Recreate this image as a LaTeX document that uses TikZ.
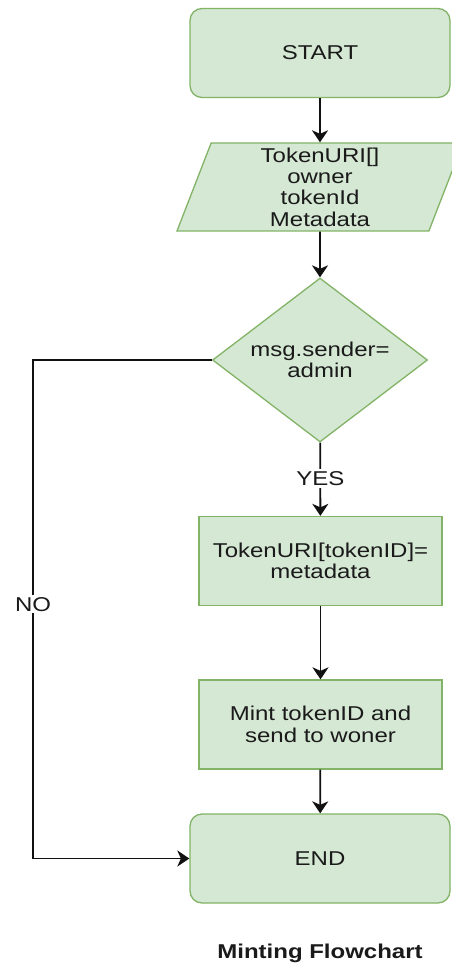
\documentclass[tikz,border=0pt]{standalone}
\usepackage{fontspec}
\setmainfont{Liberation Sans}[FakeStretch=1.2]
\usetikzlibrary{arrows.meta,shapes.geometric}
\definecolor{fillgreen}{HTML}{D5E8D4}
\definecolor{strokegreen}{HTML}{82B366}
\definecolor{textdark}{HTML}{1A1A1A}
\definecolor{linedark}{HTML}{111111}
\tikzset{
  green box/.style={draw=strokegreen, fill=fillgreen, line width=1.3pt, align=center,
    font=\fontsize{20}{21.4}\selectfont, text=textdark},
  terminal/.style={green box, rounded corners=12pt, minimum width=260pt, minimum height=89pt},
  process/.style={green box, minimum width=243pt, minimum height=89pt},
  decision/.style={green box, diamond, aspect=1.31, minimum width=215pt, minimum height=164pt, inner sep=0pt},
  io/.style={green box, trapezium, trapezium left angle=66.6, trapezium right angle=113.4,
    trapezium stretches body, minimum width=286pt, minimum height=88pt, inner sep=0pt},
  flow/.style={draw=linedark, line width=1.8pt, -{Stealth[length=12pt,width=16pt,inset=3.5pt]}},
  edge label/.style={fill=white, inner sep=2pt, font=\fontsize{20}{21.4}\selectfont, text=textdark}
}
\begin{document}
\begin{tikzpicture}[x=1pt, y=-1pt]
  \useasboundingbox[fill=white] (0,0) rectangle (451,965);

  \node[terminal] (start) at (320,53) {START};
  \node[io] (input) at (320,187) {TokenURI[]\\owner\\tokenId\\Metadata};
  \node[decision] (check) at (320,360) {msg.sender=\\admin};
  \node[process] (assign) at (320.5,561) {TokenURI[tokenID]=\\metadata};
  \node[process] (mint) at (320.5,724.5) {Mint tokenID and\\send to woner};
  \node[terminal] (end) at (320,858.5) {END};
  \coordinate (noTop) at (33,360);
  \coordinate (noBottom) at (33,858.5);

  \draw[flow] (start) -- (input);
  \draw[flow] (input) -- (check);
  \draw[flow] (check) -- node[edge label, pos=0.49] (yes) {YES} (assign);
  \draw[flow] (assign) -- (mint);
  \draw[flow] (mint) -- (end);
  \draw[flow] (check.west) -- (noTop) -- node[edge label, pos=0.49] (no) {NO} (noBottom) -- (end.west);

  \node[font=\fontsize{20}{22}\selectfont\bfseries, text=textdark] (title) at (320,953) {Minting Flowchart};
\end{tikzpicture}
\end{document}
